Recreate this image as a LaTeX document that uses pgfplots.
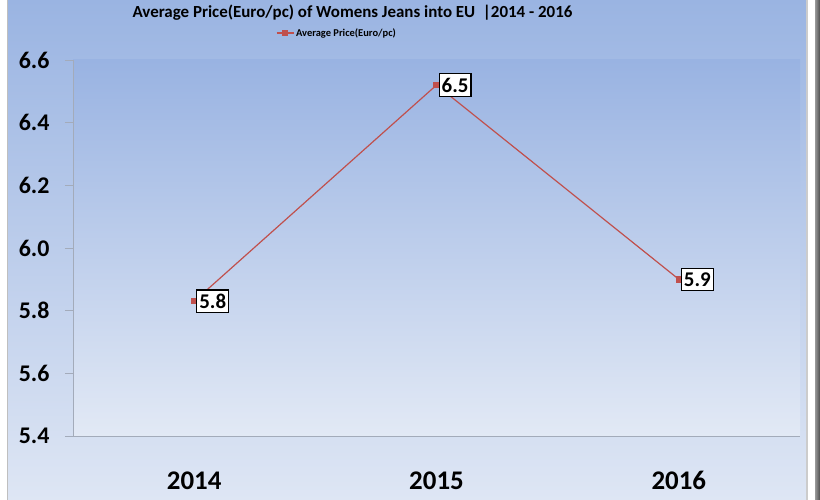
\documentclass[border=0pt]{standalone}
\usepackage{fontspec}
\setmainfont{Carlito}
\usepackage{pgfplots}
\pgfplotsset{compat=1.18}
\definecolor{bgtop}{HTML}{9AB4E2}
\definecolor{bgbot}{HTML}{DEE6F4}
\definecolor{patop}{HTML}{99B3E2}
\definecolor{pabot}{HTML}{E2E9F5}
\definecolor{linered}{HTML}{C0504D}
\definecolor{axgray}{HTML}{A3ABBA}
\begin{document}
\begin{tikzpicture}
\useasboundingbox (0,0) rectangle (820bp,500bp);
% outer frame
\fill[white] (0,0) rectangle (820bp,500bp);
\shade[top color=bgtop, bottom color=bgbot] (8bp,0) rectangle (806bp,500bp);
\draw[gray!50, line width=1bp] (7.5bp,0) -- (7.5bp,500bp);
\draw[gray!40, line width=2bp] (807bp,0) -- (807bp,500bp);
\shade[left color=gray!80, right color=black!70] (815bp,0) rectangle (820bp,500bp);
\begin{axis}[
  at={(73bp,64bp)}, anchor=south west,
  scale only axis, width=727bp, height=376bp,
  xmin=-0.5, xmax=2.5, ymin=5.4, ymax=6.6,
  axis lines*=left,
  axis line style={axgray, line width=0.8bp},
  axis background/.style={shade, top color=patop, bottom color=pabot},
  xtick={0,1,2}, xticklabels={2014,2015,2016},
  xtick style={draw=none},
  ytick={5.4,5.6,5.8,6.0,6.2,6.4,6.6},
  ytick style={axgray, line width=0.8bp},
  tick align=outside, major tick length=8bp,
  /pgf/number format/assume math mode=true,
  yticklabel={\pgfmathprintnumber[fixed,fixed zerofill,precision=1]{\tick}},
  yticklabel style={font=\bfseries\fontsize{24}{24}\selectfont, xshift=-12bp},
  xticklabel style={font=\bfseries\fontsize{27}{27}\selectfont, yshift=-24bp},
  title={Average Price(Euro/pc) of Womens Jeans into EU \ |2014 - 2016},
  title style={anchor=center, font=\bfseries\fontsize{17}{17}\selectfont,
    at={(axis description cs:0.3845,1.111)}},
  legend style={at={(axis description cs:0.363,1.072)}, anchor=center, draw=none, fill=none,
    font=\bfseries\fontsize{10.5}{10.5}\selectfont, inner sep=0pt},
  legend image post style={line width=1.2bp},
  clip=false,
]
\addplot[linered, line width=1.2bp, mark=square*, mark size=2.6bp, mark options={fill=linered, draw=linered},
  nodes near coords={\pgfmathprintnumber[fixed,precision=1]{\pgfplotspointmeta}},
  every node near coord/.append style={anchor=west, xshift=2bp, fill=white, draw=black, line width=1.3bp,
    text=black, font=\bfseries\fontsize{21}{21}\selectfont, inner xsep=2.5bp, inner ysep=4bp}]
coordinates {(0,5.83) (1,6.52) (2,5.90)};
\addlegendentry{Average Price(Euro/pc)}
\end{axis}
\end{tikzpicture}
\end{document}
